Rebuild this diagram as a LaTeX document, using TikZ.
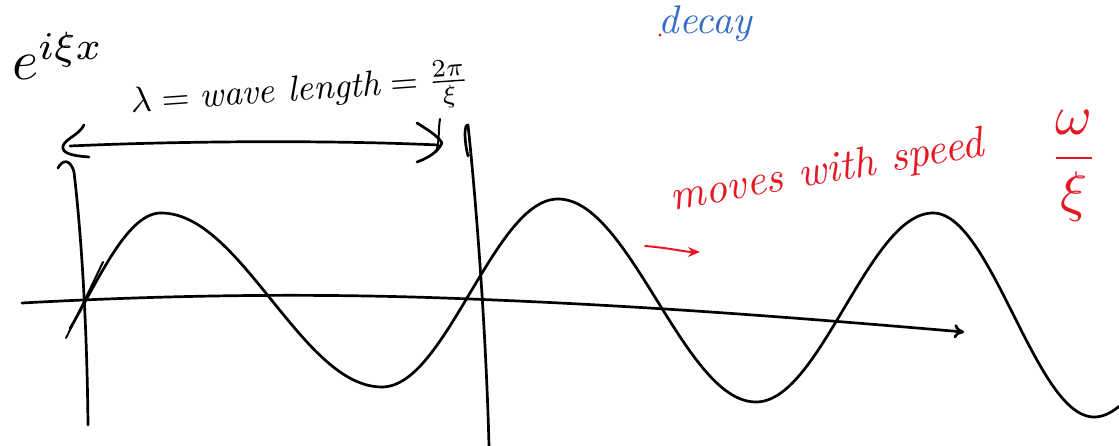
\documentclass[tikz,border=0pt]{standalone}
\usepackage{amsmath}
\usetikzlibrary{arrows.meta}
\definecolor{penred}{RGB}{232,22,34}
\definecolor{penblue}{RGB}{52,108,198}
\newcommand\halfwave[6]{%
  \draw[ink] plot[domain=#5:#6,samples=50,smooth]
    (\x,{(#2+#4)/2+(#2-#4)/2*cos((\x-#1)*(180/(#3-#1)))});}
\begin{document}
\begin{tikzpicture}[x=1pt,y=-1pt,
  ink/.style={line width=2.7pt,line cap=round,line join=round},
  thin ink/.style={line width=2pt,line cap=round,line join=round},
  redtxt/.style={text=penred,inner sep=0pt},
  bluetxt/.style={text=penblue,inner sep=0pt},
  blacktxt/.style={text=black,inner sep=0pt}]
\useasboundingbox (0,0) rectangle (1119,446);
% texts
\node[blacktxt,scale=5.6] (eix) at (58,56) {$e^{i\xi x}$};
\node[blacktxt,rotate=4,scale=3.6] (lam) at (300,94) {$\lambda = \textit{wave length} = \frac{2\pi}{\xi}$};
\node[bluetxt,scale=4] (decay) at (706,24) {\textit{decay}};
\node[redtxt,rotate=10,scale=4.3] (moves) at (828,172) {\textit{moves with speed}};
\node[redtxt,scale=5.6] (speed) at (1074,166) {$\dfrac{\omega}{\xi}$};
\fill[penred] (660,35) circle (1.6pt);
% red arrow
\draw[penred,thin ink,-{Stealth[length=12pt,width=10pt]}] (645,246) .. controls (670,248) and (685,252) .. (700,252);
% horizontal axis
\draw[ink,-{To[length=10pt,width=14pt]}] (22,303) .. controls (150,296) and (300,292) .. (470,299)
  .. controls (650,306) and (800,318) .. (964,332);
% left vertical axis
\draw[ink] (58,168) .. controls (62,160) and (70,158) .. (74,172)
  .. controls (82,240) and (87,330) .. (88,425);
% right vertical line
\draw[ink] (468,156) .. controls (464,140) and (464,124) .. (468,125)
  .. controls (476,200) and (486,330) .. (489,446);
% wavelength double arrow
\draw[ink] (70,146) .. controls (180,141) and (330,140) .. (438,145);
\draw[ink] (84,125) .. controls (78,136) and (66,138) .. (63,146)
  .. controls (61,154) and (75,156) .. (89,157);
\draw[ink] (417,123) .. controls (428,130) and (438,136) .. (442,143)
  .. controls (438,152) and (428,158) .. (417,162);
\draw[thin ink] (440,119) .. controls (438,130) and (440,140) .. (436,152);
% wave
\halfwave{11}{387}{161}{213}{70}{161}
\halfwave{161}{213}{382}{387}{161}{382}
\halfwave{382}{387}{558}{199}{382}{558}
\halfwave{558}{199}{756}{402}{558}{756}
\halfwave{756}{402}{933}{213}{756}{933}
\halfwave{933}{213}{1094}{417}{933}{1094}
\halfwave{1094}{417}{1264}{213}{1094}{1119}
\draw[thin ink] (66,338) .. controls (80,310) and (92,285) .. (103,262);
\end{tikzpicture}
\end{document}
